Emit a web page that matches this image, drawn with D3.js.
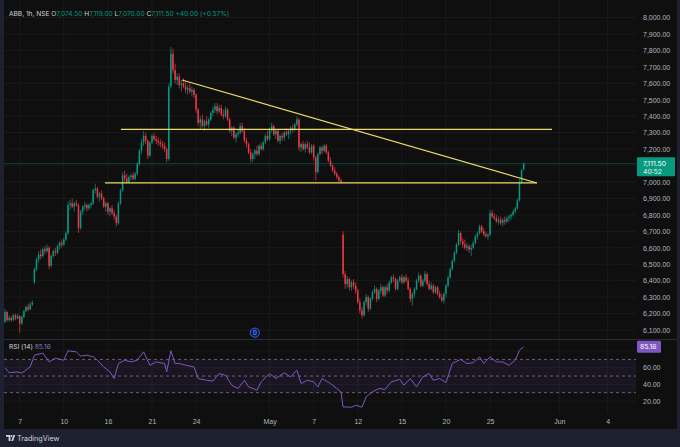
<!DOCTYPE html>
<html lang="en">
<head>
<meta charset="UTF-8">
<title>ABB, 1h, NSE</title>
<script src="https://d3js.org/d3.v7.min.js"></script>
<style>
  * { margin: 0; padding: 0; }
  body { background: #1e2130; width: 680px; height: 447px; overflow: hidden; }
  svg { display: block; font-family: "Inter", "Noto Sans", sans-serif; }
</style>
</head>
<body>
<div id="chart"></div>
<script>
// time axis: bar index of first candle of each labelled day
var tickBars = [7, 28, 49, 70, 91, 126, 147, 168, 189, 210, 231, 264, 287];
var tickLabels = ['7', '10', '16', '21', '24', 'May', '7', '12', '15', '20', '25', 'Jun', '4'];
var priceTicks = d3.range(6100, 8001, 100);
var rsiTicks = [20, 40, 60, 80];
var rsiLevels = [70, 50, 30];

// hourly candles [open, high, low, close], 7 per session
var ohlc = [
  // Apr 4
  [6150,6230,6140,6210],[6210,6215,6150,6160],[6160,6190,6150,6175],[6175,6185,6150,6160],[6160,6200,6155,6190],[6190,6200,6160,6170],[6170,6200,6165,6185],
  // Apr 7
  [6185,6190,6085,6140],[6140,6190,6130,6180],[6180,6225,6170,6215],[6215,6250,6210,6240],[6240,6260,6215,6225],[6225,6270,6220,6255],[6255,6280,6245,6265],
  // Apr 8
  [6390,6480,6380,6470],[6470,6540,6460,6530],[6530,6580,6510,6560],[6560,6590,6530,6550],[6550,6600,6540,6590],[6590,6610,6560,6580],[6580,6620,6570,6600],
  // Apr 9
  [6600,6610,6470,6490],[6490,6560,6480,6550],[6550,6590,6540,6580],[6580,6600,6550,6570],[6570,6620,6560,6610],[6610,6640,6590,6630],[6630,6650,6600,6620],
  // Apr 10
  [6620,6660,6610,6650],[6650,6700,6640,6690],[6690,6880,6680,6860],[6860,6890,6830,6870],[6870,6900,6840,6850],[6850,6880,6820,6870],[6870,6890,6850,6860],
  // Apr 11
  [6860,6870,6690,6720],[6720,6830,6710,6820],[6820,6860,6800,6850],[6850,6880,6830,6860],[6860,6870,6820,6840],[6840,6870,6830,6860],[6860,6880,6840,6870],
  // Apr 15
  [6870,6960,6860,6950],[6950,6990,6930,6960],[6960,6970,6900,6910],[6910,6940,6880,6930],[6930,6950,6890,6900],[6900,6910,6840,6850],[6850,6880,6820,6870],
  // Apr 16
  [6870,6880,6800,6820],[6820,6850,6790,6840],[6840,6860,6800,6810],[6810,6830,6770,6790],[6790,6800,6730,6750],[6750,6880,6740,6870],[6870,6960,6860,6950],
  // Apr 17
  [6950,7060,6940,7040],[7040,7070,7000,7020],[7020,7050,6990,7000],[7000,7040,6990,7030],[7030,7050,7010,7040],[7040,7060,7010,7020],[7020,7060,7010,7050],
  // Apr 18
  [7050,7120,7040,7110],[7110,7200,7100,7190],[7190,7260,7170,7240],[7240,7310,7220,7280],[7280,7300,7230,7250],[7250,7260,7140,7160],[7160,7250,7150,7240],
  // Apr 21
  [7240,7290,7230,7280],[7280,7300,7250,7260],[7260,7280,7230,7250],[7250,7270,7220,7240],[7240,7260,7210,7230],[7230,7250,7200,7220],[7220,7240,7180,7200],
  // Apr 22
  [7200,7210,7120,7140],[7140,7600,7130,7580],[7580,7820,7570,7780],[7780,7810,7660,7680],[7680,7720,7600,7620],[7620,7660,7590,7640],[7640,7660,7570,7590],
  // Apr 23
  [7590,7620,7550,7600],[7600,7630,7570,7580],[7580,7610,7540,7560],[7560,7590,7530,7570],[7570,7600,7540,7550],[7550,7580,7520,7560],[7560,7570,7510,7530],
  // Apr 24
  [7530,7540,7420,7440],[7440,7450,7340,7360],[7360,7400,7320,7380],[7380,7410,7330,7340],[7340,7380,7310,7370],[7370,7400,7340,7350],[7350,7390,7330,7380],
  // Apr 25
  [7380,7430,7370,7420],[7420,7460,7400,7440],[7440,7480,7420,7460],[7460,7480,7410,7430],[7430,7470,7420,7450],[7450,7470,7400,7410],[7410,7440,7380,7400],
  // Apr 28
  [7400,7460,7390,7440],[7440,7450,7370,7380],[7380,7390,7300,7310],[7310,7340,7280,7330],[7330,7340,7260,7270],[7270,7300,7240,7290],[7290,7320,7270,7300],
  // Apr 29
  [7300,7360,7290,7340],[7340,7360,7300,7310],[7310,7330,7240,7250],[7250,7270,7210,7230],[7230,7240,7170,7180],[7180,7200,7120,7140],[7140,7180,7120,7170],
  // Apr 30
  [7170,7200,7140,7190],[7190,7220,7160,7170],[7170,7230,7160,7220],[7220,7240,7190,7200],[7200,7250,7190,7240],[7240,7290,7230,7280],[7280,7310,7250,7260],
  // May 2
  [7260,7330,7250,7320],[7320,7360,7300,7340],[7340,7350,7280,7290],[7290,7320,7260,7310],[7310,7320,7240,7250],[7250,7290,7230,7280],[7280,7300,7250,7270],
  // May 5
  [7270,7310,7250,7300],[7300,7330,7280,7290],[7290,7320,7260,7310],[7310,7340,7290,7330],[7330,7350,7300,7320],[7320,7360,7310,7350],[7350,7400,7340,7380],
  // May 6
  [7380,7390,7190,7210],[7210,7240,7180,7230],[7230,7250,7190,7200],[7200,7240,7180,7230],[7230,7250,7200,7210],[7210,7240,7170,7180],[7180,7230,7170,7220],
  // May 7
  [7220,7230,7130,7150],[7150,7160,7010,7060],[7060,7180,7050,7170],[7170,7220,7160,7210],[7210,7220,7170,7190],[7190,7230,7180,7220],[7220,7230,7170,7180],
  // May 8
  [7180,7190,7120,7130],[7130,7150,7090,7100],[7100,7110,7060,7070],[7070,7090,7040,7050],[7050,7060,7020,7030],[7030,7040,7000,7010],[7010,7020,6990,7000],
  // May 9
  [6680,6700,6420,6440],[6440,6460,6350,6380],[6380,6430,6360,6410],[6410,6420,6340,6360],[6360,6400,6340,6390],[6390,6410,6350,6370],[6370,6390,6320,6340],
  // May 12
  [6340,6350,6260,6270],[6270,6290,6200,6220],[6220,6240,6170,6190],[6190,6280,6180,6270],[6270,6320,6250,6300],[6300,6310,6210,6230],[6230,6300,6220,6290],
  // May 13
  [6290,6340,6280,6330],[6330,6370,6320,6350],[6350,6360,6270,6290],[6290,6350,6280,6340],[6340,6380,6320,6360],[6360,6370,6300,6310],[6310,6370,6300,6360],
  // May 14
  [6360,6380,6320,6340],[6340,6400,6330,6390],[6390,6430,6380,6420],[6420,6440,6390,6410],[6410,6420,6340,6350],[6350,6410,6340,6400],[6400,6430,6390,6420],
  // May 15
  [6420,6440,6380,6390],[6390,6430,6380,6420],[6420,6440,6390,6400],[6400,6420,6340,6350],[6350,6360,6270,6290],[6290,6330,6250,6320],[6320,6360,6300,6350],
  // May 16
  [6350,6410,6340,6400],[6400,6450,6390,6430],[6430,6440,6360,6370],[6370,6410,6360,6400],[6400,6460,6390,6440],[6440,6450,6370,6380],[6380,6400,6340,6350],
  // May 19
  [6350,6390,6340,6370],[6370,6380,6320,6330],[6330,6370,6320,6360],[6360,6370,6310,6320],[6320,6340,6290,6300],[6300,6320,6270,6280],[6280,6330,6260,6320],
  // May 20
  [6320,6380,6300,6370],[6370,6430,6360,6420],[6420,6480,6410,6470],[6470,6530,6460,6520],[6520,6580,6510,6570],[6570,6630,6560,6620],[6620,6710,6610,6690],
  // May 21
  [6690,6700,6620,6640],[6640,6660,6600,6620],[6620,6650,6590,6600],[6600,6630,6580,6610],[6610,6620,6570,6590],[6590,6620,6550,6600],[6600,6640,6590,6630],
  // May 22
  [6630,6680,6620,6670],[6670,6700,6650,6690],[6690,6740,6680,6730],[6730,6740,6690,6700],[6700,6720,6670,6680],[6680,6700,6660,6670],[6670,6690,6650,6680],
  // May 23
  [6680,6830,6670,6810],[6810,6830,6780,6790],[6790,6810,6770,6780],[6780,6800,6750,6760],[6760,6790,6740,6770],[6770,6790,6740,6750],[6750,6780,6730,6770],
  // May 26
  [6770,6790,6740,6760],[6760,6790,6750,6780],[6780,6800,6760,6790],[6790,6810,6770,6800],[6800,6830,6790,6820],[6820,6850,6810,6840],[6840,6900,6830,6890],
  // May 27
  [6890,7020,6880,7000],[7000,7080,6990,7071.5],[7074.5,7119,7070,7111.5]
];

// RSI(14): bar index and value
var rsiBars = [0,2,6,8,12,14,18,21,24,28, 30,34,36,39,42,44,47,50,52,54, 57,60,63,66,69,72,76,77,79,81,
  83,86,90,92,96,99,102,105,108,111, 114,116,120,122,126,129,133,136,139,141, 144,147,149,151,155,158,160,161,165,167,
  170,172,175,178,181,184,188,190,193,196, 199,202,204,207,210,213,217,220,223,226, 228,231,234,237,240,243,245,247];
var rsiValues = [60,54,55,53.6,61,75,77.6,67,71.6,69, 80.4,79,74,75,73,69,61,55,47,65, 69,67,69,79,63,67,65,55,80.4,65,
  65,63,61,47,45,44,53,51,39,35, 45,37,33,43,53,47,54,49,57,41, 45,43,37,47,41,35,31,13,12.5,15,
  12.5,25,31,35,34,43,46,39,47,37, 49,53,45,47,42,65,70,65,66,73, 65,73,67,67,63,69,81,85.16];

// drawn lines: [bar1, price1, bar2, price2]
var trendLines = [
  [47.6, 6995, 253.3, 6995],
  [55.2, 7320, 260.5, 7320],
  [84.3, 7620, 253.3, 6994]
];
var events = [{ bar: 119, label: 'D' }];

var W = 680, H = 447;
var up = '#089981', down = '#f23645', axisText = '#b2b5be', grid = '#1a1a1a';
var last = ohlc[ohlc.length - 1];
var rsiLast = rsiValues[rsiValues.length - 1];

var svg = d3.select('#chart').append('svg').attr('width', W).attr('height', H);
svg.append('rect').attr('width', W).attr('height', H).attr('fill', '#1e2130');
svg.append('rect').attr('x', 4).attr('y', 0).attr('width', 673).attr('height', 429).attr('fill', '#0f0f0f');

var x = d3.scaleLinear().domain([-2.38, 300.5]).range([0, 636]);
var y = d3.scaleLinear().domain([6045.6, 8106.4]).range([339, 0]);
var yR = d3.scaleLinear().domain([5.6, 94.5]).range([413, 339]);

var defs = svg.append('defs');
defs.append('clipPath').attr('id', 'clipP').append('rect').attr('x', 4).attr('y', 0).attr('width', 632).attr('height', 339);
defs.append('clipPath').attr('id', 'clipR').append('rect').attr('x', 4).attr('y', 339).attr('width', 632).attr('height', 74);

// grid
svg.append('g').selectAll('line').data(priceTicks).join('line')
  .attr('x1', 4).attr('x2', 636).attr('y1', d => y(d)).attr('y2', d => y(d))
  .attr('stroke', grid).attr('stroke-width', 1);
svg.append('g').selectAll('line').data(rsiTicks).join('line')
  .attr('x1', 4).attr('x2', 636).attr('y1', d => yR(d)).attr('y2', d => yR(d))
  .attr('stroke', grid).attr('stroke-width', 1);
svg.append('g').selectAll('line').data(tickBars).join('line')
  .attr('x1', d => x(d)).attr('x2', d => x(d)).attr('y1', 0).attr('y2', 413)
  .attr('stroke', grid).attr('stroke-width', 1);

// pane separator
svg.append('line').attr('x1', 4).attr('x2', 677).attr('y1', 339.5).attr('y2', 339.5)
  .attr('stroke', '#2a2d35').attr('stroke-width', 1);

// candles
var cg = svg.append('g').attr('clip-path', 'url(#clipP)');
cg.selectAll('line.wick').data(ohlc).join('line').attr('class', 'wick')
  .attr('x1', (d, i) => x(i)).attr('x2', (d, i) => x(i))
  .attr('y1', d => y(d[1])).attr('y2', d => y(d[2]))
  .attr('stroke', d => d[3] >= d[0] ? up : down).attr('stroke-width', 0.7);
cg.selectAll('rect.body').data(ohlc).join('rect').attr('class', 'body')
  .attr('x', (d, i) => x(i) - 0.75).attr('width', 1.5)
  .attr('y', d => y(Math.max(d[0], d[3])))
  .attr('height', d => Math.max(0.7, Math.abs(y(d[0]) - y(d[3]))))
  .attr('fill', d => d[3] >= d[0] ? up : down);

// last price line
cg.append('line').attr('x1', 4).attr('x2', 636).attr('y1', y(last[3])).attr('y2', y(last[3]))
  .attr('stroke', up).attr('stroke-opacity', 0.5).attr('stroke-width', 0.8);

// trend lines
cg.selectAll('line.trend').data(trendLines).join('line').attr('class', 'trend')
  .attr('x1', d => x(d[0])).attr('y1', d => y(d[1]))
  .attr('x2', d => x(d[2])).attr('y2', d => y(d[3]))
  .attr('stroke', '#ecd96a').attr('stroke-width', 1.2);

// dividend marker
var ev = svg.append('g').selectAll('g').data(events).join('g')
  .attr('transform', d => 'translate(' + x(d.bar) + ',332.7)');
ev.append('circle').attr('r', 4.6).attr('fill', '#101a3c').attr('stroke', '#2962ff').attr('stroke-width', 1);
ev.append('text').text(d => d.label).attr('text-anchor', 'middle').attr('dy', '0.35em')
  .attr('font-size', 5.5).attr('font-weight', 700).attr('fill', '#4d7bff');

// RSI pane
var rg = svg.append('g').attr('clip-path', 'url(#clipR)');
rg.append('rect').attr('x', 4).attr('width', 632)
  .attr('y', yR(70)).attr('height', yR(30) - yR(70))
  .attr('fill', '#7e57c2').attr('fill-opacity', 0.1);
rg.selectAll('line.lvl').data(rsiLevels).join('line').attr('class', 'lvl')
  .attr('x1', 4).attr('x2', 636).attr('y1', d => yR(d)).attr('y2', d => yR(d))
  .attr('stroke', '#787b86').attr('stroke-width', 0.8).attr('stroke-dasharray', '3,3');
var rsiLine = d3.line().x(d => x(d[0])).y(d => yR(d[1]));
rg.append('path').attr('d', rsiLine(d3.zip(rsiBars, rsiValues)))
  .attr('fill', 'none').attr('stroke', '#7e57c2').attr('stroke-width', 1);

// axes (labels sitting under the value boxes are covered, so leave them out)
function styleAxis(g) {
  g.select('.domain').remove();
  g.selectAll('line').remove();
  g.selectAll('text').attr('fill', axisText).attr('font-size', 7);
}
svg.append('g').attr('transform', 'translate(643,0)')
  .call(d3.axisRight(y).tickValues(priceTicks.filter(d => Math.abs(y(d) - y(last[3])) > 10))
    .tickFormat(d3.format(',.2f')).tickSize(0).tickPadding(0))
  .call(styleAxis);
svg.append('g').attr('transform', 'translate(643,0)')
  .call(d3.axisRight(yR).tickValues(rsiTicks.filter(d => Math.abs(yR(d) - yR(rsiLast)) > 8))
    .tickFormat(d3.format(',.2f')).tickSize(0).tickPadding(0))
  .call(styleAxis);
svg.append('g').attr('transform', 'translate(0,419.5)')
  .call(d3.axisBottom(x).tickValues(tickBars).tickFormat((d, i) => tickLabels[i]).tickSize(0).tickPadding(0))
  .call(styleAxis);

// last price label
svg.append('rect').attr('x', 637).attr('y', y(last[3]) - 6.5).attr('width', 38).attr('height', 19)
  .attr('fill', up).attr('rx', 1);
svg.append('text').attr('x', 643).attr('y', y(last[3]) - 0.5).attr('dy', '0.35em')
  .attr('font-size', 6.8).attr('fill', '#ffffff').text(d3.format(',.2f')(last[3]));
svg.append('text').attr('x', 643).attr('y', y(last[3]) + 7.5).attr('dy', '0.35em')
  .attr('font-size', 6.8).attr('fill', '#e6f5f1').text('40:52');

// RSI value label
svg.append('rect').attr('x', 637).attr('y', yR(rsiLast) - 6).attr('width', 24).attr('height', 12)
  .attr('fill', '#7e57c2').attr('rx', 1);
svg.append('text').attr('x', 640).attr('y', yR(rsiLast)).attr('dy', '0.35em')
  .attr('font-size', 6.8).attr('fill', '#ffffff').text(rsiLast.toFixed(2));

// legends
var prevClose = ohlc[ohlc.length - 2][3];
var chg = last[3] - prevClose;
var hdr = svg.append('text').attr('x', 9).attr('y', 14).attr('dy', '0.35em').attr('font-size', 6.6).attr('fill', '#d1d4dc');
hdr.append('tspan').text('ABB, 1h, NSE  ');
[['O', last[0]], ['H', last[1]], ['L', last[2]], ['C', last[3]]].forEach(function (p) {
  hdr.append('tspan').text(' ' + p[0]);
  hdr.append('tspan').attr('fill', up).text(d3.format(',.2f')(p[1]));
});
hdr.append('tspan').attr('fill', up)
  .text('  +' + chg.toFixed(2) + ' (+' + (chg / prevClose * 100).toFixed(2) + '%)');

var rl = svg.append('text').attr('x', 9).attr('y', 347).attr('dy', '0.35em').attr('font-size', 6.6).attr('fill', '#d1d4dc');
rl.append('tspan').text('RSI (14)  ');
rl.append('tspan').attr('fill', '#9575cd').text(rsiLast.toFixed(2));

// footer
var ft = svg.append('g').attr('transform', 'translate(6,435)');
ft.append('path').attr('d', 'M0 0 H4.5 V6 H2.6 V1.8 H0 Z').attr('fill', '#d1d4dc');
ft.append('circle').attr('cx', 5.6).attr('cy', 1).attr('r', 0.9).attr('fill', '#d1d4dc');
ft.append('path').attr('d', 'M5.3 6 L7.4 0 H9.2 L7.1 6 Z').attr('fill', '#d1d4dc');
ft.append('text').attr('x', 11).attr('y', 3).attr('dy', '0.35em').attr('font-size', 7.2)
  .attr('fill', '#d1d4dc').text('TradingView');
</script>
</body>
</html>
